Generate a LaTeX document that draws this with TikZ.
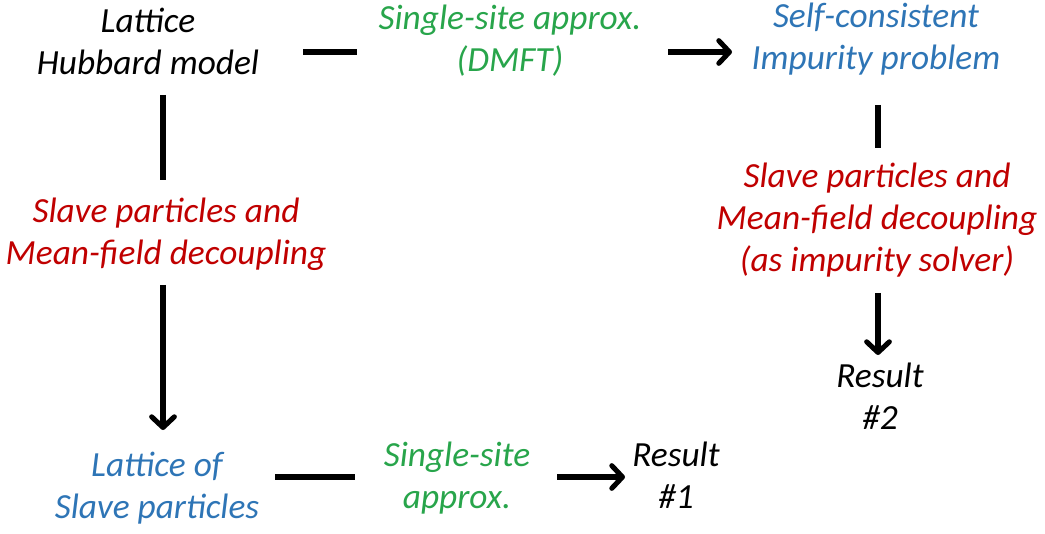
\documentclass[tikz,border=0pt]{standalone}
\usepackage{fontspec}
\setmainfont{Carlito}
\usetikzlibrary{arrows.meta,calc}
\definecolor{cgreen}{RGB}{40,165,75}
\definecolor{cblue}{RGB}{46,117,182}
\definecolor{cred}{RGB}{192,0,0}
\begin{document}
\begin{tikzpicture}[x=0.75pt,y=-0.75pt,
  lbl/.style={align=center,inner sep=0pt,font=\fontsize{26.5}{31.5}\selectfont\itshape},
  conn/.style={line width=3.8pt},
  arr/.style={conn,-{Straight Barb[length=8pt,width=17pt,line cap=round,line join=round]}}]
\useasboundingbox (0,0) rectangle (1045,534);
\node[lbl,text=black] (hub) at (148,41) {Lattice\\Hubbard model};
\node[lbl,text=cgreen] (dmft) at (510,41) {Single-site approx.\\(DMFT)};
\node[lbl,text=cblue] (imp) at (876,39) {Self-consistent\\Impurity problem};
\node[lbl,text=cred] (slL) at (166,234) {Slave particles and\\Mean-field decoupling};
\node[lbl,text=cblue] (lsp) at (157,488) {Lattice of\\Slave particles};
\node[lbl,text=cgreen] (ssa) at (457,478) {Single-site\\approx.};
\node[lbl,text=black] (r1) at (676,475) {Result\\\#1};
\node[lbl,text=cred] (slR) at (877,220) {Slave particles and\\Mean-field decoupling\\(as impurity solver)};
\node[lbl,text=black] (r2) at (880,396) {Result\\\#2};
% top row
\draw[conn] ($(hub.center)+(155,11)$) -- ($(dmft.center)+(-153,11)$);
\draw[arr] ($(dmft.center)+(158,11)$) -- ($(imp.center)+(-144,13)$);
% left column
\draw[conn] ($(hub.center)+(15,54)$) -- ($(slL.center)+(-3,-54)$);
\draw[arr] ($(slL.center)+(-3,51)$) -- ($(lsp.center)+(6,-58)$);
% bottom row
\draw[conn] ($(lsp.center)+(118,-11)$) -- ($(ssa.center)+(-102,-1)$);
\draw[arr] ($(ssa.center)+(100,-1)$) -- ($(r1.center)+(-51,2)$);
% right column
\draw[conn] ($(imp.center)+(2,66)$) -- ($(slR.center)+(1,-72)$);
\draw[arr] ($(slR.center)+(1,73)$) -- ($(r2.center)+(-2,-41)$);
\end{tikzpicture}
\end{document}
